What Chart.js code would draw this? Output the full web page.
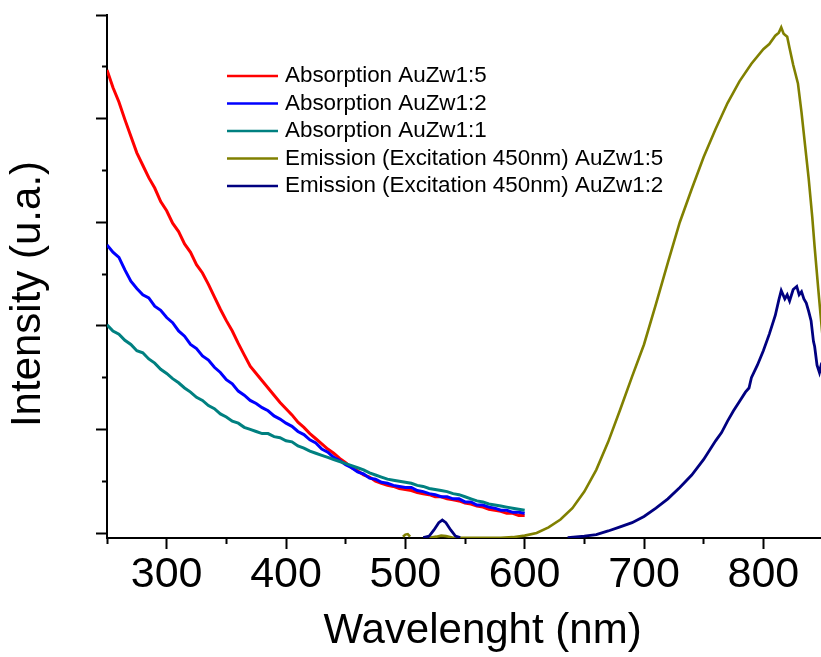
<!DOCTYPE html>
<html>
<head>
<meta charset="utf-8">
<script src="https://cdn.jsdelivr.net/npm/chart.js@4.4.1/dist/chart.umd.min.js"></script>
<style>
html, body { margin: 0; padding: 0; overflow: hidden; background: #fff; }
canvas { display: block; }
</style>
</head>
<body>
<canvas id="myChart" width="830" height="657"></canvas>
<script>
// absorption spectra, every 5 nm
const absWl = [250, 255, 260, 265, 270, 275, 280, 285, 290, 295, 300, 305, 310, 315, 320, 325, 330, 335, 340, 345,
    350, 355, 360, 365, 370, 375, 380, 385, 390, 395, 400, 405, 410, 415, 420, 425, 430, 435, 440, 445,
    450, 455, 460, 465, 470, 475, 480, 485, 490, 495, 500, 505, 510, 515, 520, 525, 530, 535, 540, 545,
    550, 555, 560, 565, 570, 575, 580, 585, 590, 595, 600];
const abs15 = [4.47, 4.30, 4.16, 3.99, 3.83, 3.67, 3.55, 3.43, 3.33, 3.20, 3.11, 2.99, 2.91, 2.79, 2.71, 2.59, 2.51, 2.40, 2.28, 2.16,
    2.05, 1.95, 1.83, 1.72, 1.61, 1.54, 1.47, 1.40, 1.33, 1.26, 1.20, 1.14, 1.07, 1.02, 0.96, 0.91, 0.86, 0.81, 0.77, 0.72,
    0.68, 0.63, 0.60, 0.56, 0.54, 0.50, 0.48, 0.46, 0.45, 0.43, 0.42, 0.41, 0.39, 0.38, 0.37, 0.35, 0.35, 0.33, 0.32, 0.31,
    0.29, 0.28, 0.26, 0.25, 0.23, 0.22, 0.21, 0.19, 0.19, 0.17, 0.17];
const abs12 = [2.78, 2.71, 2.66, 2.54, 2.43, 2.36, 2.30, 2.27, 2.19, 2.15, 2.08, 2.03, 1.95, 1.90, 1.82, 1.78, 1.71, 1.67, 1.60, 1.55,
    1.48, 1.44, 1.37, 1.33, 1.28, 1.25, 1.21, 1.18, 1.13, 1.10, 1.06, 1.03, 0.98, 0.95, 0.90, 0.87, 0.81, 0.78, 0.73, 0.70,
    0.66, 0.63, 0.59, 0.57, 0.53, 0.52, 0.49, 0.48, 0.46, 0.45, 0.44, 0.44, 0.41, 0.40, 0.38, 0.37, 0.35, 0.35, 0.33, 0.33,
    0.30, 0.30, 0.27, 0.27, 0.25, 0.24, 0.22, 0.22, 0.20, 0.20, 0.19];
const abs11 = [2.01, 1.95, 1.92, 1.86, 1.82, 1.76, 1.74, 1.68, 1.64, 1.58, 1.54, 1.49, 1.45, 1.40, 1.36, 1.31, 1.28, 1.23, 1.20, 1.15,
    1.12, 1.08, 1.06, 1.02, 1.00, 0.98, 0.96, 0.96, 0.93, 0.92, 0.89, 0.88, 0.84, 0.82, 0.79, 0.77, 0.75, 0.73, 0.71, 0.69,
    0.67, 0.65, 0.63, 0.61, 0.58, 0.56, 0.54, 0.52, 0.51, 0.50, 0.49, 0.48, 0.46, 0.45, 0.43, 0.42, 0.41, 0.40, 0.38, 0.37,
    0.35, 0.33, 0.31, 0.30, 0.28, 0.27, 0.26, 0.25, 0.24, 0.23, 0.22];

// emission 1:5 (null = no trace)
const em15Wl = [498, 500, 502, 504, 506, 520, 526, 530, 534, 540, 550, 560, 570, 580, 590, 600, 610, 620, 630, 640,
    650, 660, 670, 680, 690, 700, 710, 720, 730, 740, 750, 760, 770, 780, 790, 800, 805, 810, 813, 815,
    817, 820, 822, 825, 829, 832, 835, 838, 841, 843, 846, 848, 850];
const em15 = [-0.035, -0.015, -0.01, -0.035, null, -0.045, -0.035, -0.025, -0.03, -0.045, -0.045, -0.045, -0.045, -0.045, -0.04, -0.025, 0.0, 0.055, 0.13, 0.24,
    0.40, 0.61, 0.88, 1.19, 1.51, 1.82, 2.21, 2.61, 3.00, 3.32, 3.63, 3.90, 4.15, 4.36, 4.53, 4.67, 4.72, 4.80, 4.83, 4.88,
    4.82, 4.79, 4.68, 4.52, 4.34, 4.06, 3.74, 3.42, 3.05, 2.76, 2.36, 2.10, 1.85];

// emission 1:2
const em12Wl = [515, 520, 524, 528, 531, 534, 538, 542, 546, 590, 636, 650, 660, 670, 680, 690, 700, 710, 720, 730,
    740, 750, 760, 765, 770, 775, 780, 785, 788, 790, 795, 800, 805, 810, 813, 815, 818, 820, 822, 825,
    828, 830, 832, 834, 836, 838, 840, 842, 843, 845, 847, 848, 850];
const em12 = [-0.045, -0.03, 0.03, 0.10, 0.125, 0.10, 0.03, -0.03, -0.045, null, -0.045, -0.03, -0.015, 0.02, 0.06, 0.10, 0.16, 0.24, 0.33, 0.44,
    0.56, 0.71, 0.89, 0.97, 1.08, 1.18, 1.27, 1.36, 1.40, 1.50, 1.62, 1.76, 1.92, 2.10, 2.25, 2.34, 2.26, 2.30, 2.24, 2.35,
    2.38, 2.30, 2.33, 2.26, 2.22, 2.14, 2.05, 1.85, 1.80, 1.62, 1.55, 1.60, 1.52];

const xTicks = [250, 300, 350, 400, 450, 500, 550, 600, 650, 700, 750, 800, 850];
const xLabelled = [300, 400, 500, 600, 700, 800];
const yTicks = [0, 0.5, 1, 1.5, 2, 2.5, 3, 3.5, 4, 4.5, 5];

function pts(wl, vals) {
    return wl.map((w, i) => ({ x: w, y: vals[i] }));
}

Chart.defaults.font.family = '"Liberation Sans", Arial, sans-serif';
Chart.defaults.color = '#000';

// legend drawn inside the plot, like the original figure
const innerLegend = {
    id: 'innerLegend',
    afterDraw(chart) {
        const c = chart.ctx;
        c.save();
        c.font = '22.4px "Liberation Sans", Arial, sans-serif';
        c.textBaseline = 'middle';
        c.fillStyle = '#000';
        chart.data.datasets.forEach((ds, i) => {
            const y = 76 + i * 27.5;
            c.strokeStyle = ds.borderColor;
            c.lineWidth = 2.6;
            c.beginPath();
            c.moveTo(227, y);
            c.lineTo(278, y);
            c.stroke();
            c.fillText(ds.label, 285, y);
        });
        c.restore();
    }
};

function line(label, data, color, width, order) {
    return {
        label: label,
        data: data,
        borderColor: color,
        backgroundColor: color,
        borderWidth: width,
        pointRadius: 0,
        tension: 0,
        order: order
    };
}

const ctx = document.getElementById('myChart').getContext('2d');
const myChart = new Chart(ctx, {
    type: 'line',
    data: {
        datasets: [
            line('Absorption AuZw1:5', pts(absWl, abs15), '#ff0000', 3, 5),
            line('Absorption AuZw1:2', pts(absWl, abs12), '#0000ff', 3, 4),
            line('Absorption AuZw1:1', pts(absWl, abs11), '#008080', 3, 3),
            line('Emission (Excitation 450nm) AuZw1:5', pts(em15Wl, em15), '#808000', 2.6, 2),
            line('Emission (Excitation 450nm) AuZw1:2', pts(em12Wl, em12), '#000080', 2.8, 1)
        ]
    },
    options: {
        responsive: false,
        animation: false,
        devicePixelRatio: 1,
        layout: { padding: { left: 0, right: 7, top: 15, bottom: 0 } },
        plugins: {
            legend: { display: false },
            tooltip: { enabled: false }
        },
        scales: {
            x: {
                type: 'linear',
                min: 250,
                max: 850,
                afterBuildTicks: s => { s.ticks = xTicks.map(v => ({ value: v })); },
                ticks: {
                    autoSkip: false,
                    maxRotation: 0,
                    padding: 0,
                    font: { size: 43 },
                    color: '#000',
                    callback: v => xLabelled.includes(v) ? String(v) : ''
                },
                grid: {
                    drawOnChartArea: false,
                    tickLength: 11,
                    tickWidth: 2,
                    tickColor: '#000',
                    tickBorderDash: c => (c.tick && c.tick.value % 100 === 0) ? [] : [5, 100]
                },
                border: { color: '#000', width: 2 },
                title: {
                    display: true,
                    text: '\u00a0\u00a0\u00a0Wavelenght (nm)',
                    font: { size: 42 },
                    color: '#000',
                    padding: { top: 6, bottom: 0 }
                }
            },
            y: {
                type: 'linear',
                min: -0.048,
                max: 5,
                afterBuildTicks: s => { s.ticks = yTicks.map(v => ({ value: v })); },
                ticks: { display: false },
                grid: {
                    drawOnChartArea: false,
                    tickLength: 11,
                    tickWidth: 2,
                    tickColor: '#000',
                    tickBorderDash: c => (c.tick && Number.isInteger(c.tick.value)) ? [] : [0, 6, 6, 100]
                },
                border: { color: '#000', width: 2 },
                title: {
                    display: true,
                    text: 'Intensity (u.a.)\u00a0\u00a0\u00a0',
                    font: { size: 42 },
                    color: '#000',
                    padding: { top: 3, bottom: 42.6 }
                }
            }
        }
    },
    plugins: [innerLegend]
});
</script>
</body>
</html>
